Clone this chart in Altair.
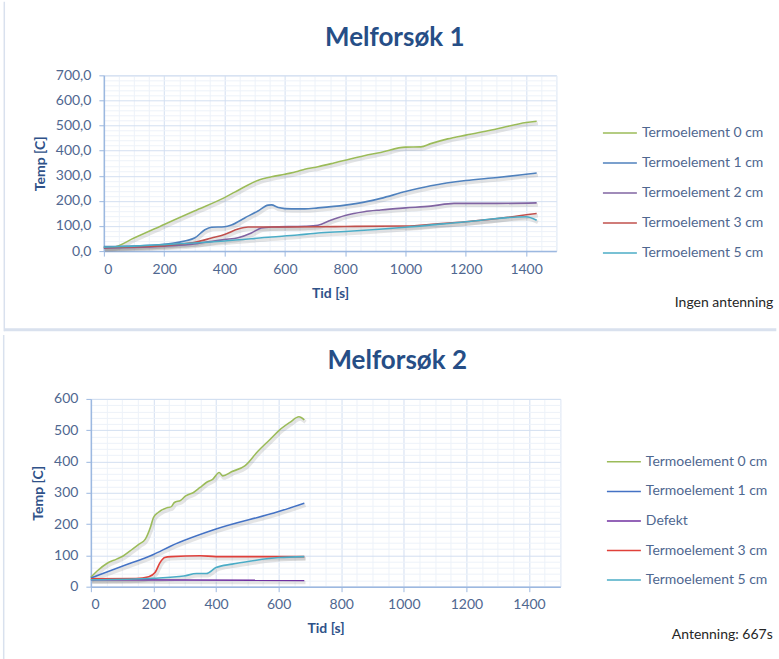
import altair as alt
import pandas as pd

FONT = "Lato"
MAJOR_GRID = "#D3DFF1"
MINOR_GRID = "#EDF2F9"
AXIS_BLUE = "#9CB8E0"
LABEL_COLOR = "#4F6790"
TITLE_COLOR = "#264E86"
AXIS_TITLE_COLOR = "#2F5289"
BORDER = "#D9E1EE"

# ---------------- Melforsøk 1 (time [s], temperature [C]) ----------------
m1_series = ["Termoelement 0 cm", "Termoelement 1 cm", "Termoelement 2 cm",
             "Termoelement 3 cm", "Termoelement 5 cm"]
m1_colors = ["#9BBB59", "#4F81BD", "#8064A2", "#C0504D", "#4BACC6"]

m1_t0_time = [0, 30, 100, 200, 300, 400, 434, 470, 512, 556, 600, 644, 666, 710, 760,
              800, 863, 918, 1000, 1051, 1084, 1140, 1200, 1305, 1400, 1435]
m1_t0_temp = [15, 16, 52, 106, 160, 213, 235, 258, 282, 296, 306, 318, 326, 336, 350,
              362, 380, 393, 414, 415, 428, 447, 462, 487, 512, 517]

m1_t1_time = [0, 100, 200, 246, 302, 335, 357, 400, 423, 467, 511, 545, 556, 578, 622,
              666, 710, 800, 863, 918, 1000, 1084, 1200, 1305, 1400, 1435]
m1_t1_temp = [18, 20, 27, 35, 53, 85, 95, 97, 104, 132, 160, 183, 184, 174, 168,
              168, 172, 183, 195, 210, 237, 260, 281, 293, 306, 311]

m1_t2_time = [0, 100, 200, 300, 335, 400, 445, 489, 522, 556, 666, 710, 752, 800, 863,
              918, 1000, 1084, 1161, 1305, 1435]
m1_t2_temp = [12, 15, 20, 28, 35, 46, 53, 72, 92, 96, 99, 103, 123, 142, 157,
              164, 172, 179, 190, 190, 192]

m1_t3_time = [0, 100, 200, 246, 302, 357, 400, 445, 478, 556, 710, 800, 1000, 1100,
              1200, 1305, 1435]
m1_t3_temp = [14, 17, 22, 27, 35, 52, 66, 88, 96, 96, 97, 98, 100, 108,
              117, 130, 150]

m1_t5_time = [0, 100, 200, 300, 400, 556, 642, 710, 800, 1000, 1200, 1400, 1435]
m1_t5_temp = [16, 20, 26, 32, 40, 56, 64, 72, 78, 95, 117, 137, 123]

# ---------------- Melforsøk 2 (time [s], temperature [C]) ----------------
m2_series = ["Termoelement 0 cm", "Termoelement 1 cm", "Defekt",
             "Termoelement 3 cm", "Termoelement 5 cm"]
m2_colors = ["#9BBB59", "#4472C4", "#7030A0", "#E0403A", "#4BACC6"]

m2_t0_time = [0, 20, 51, 82, 103, 133, 154, 174, 190, 200, 215, 246, 256, 267, 287,
              303, 328, 349, 369, 390, 410, 421, 451, 492, 533, 574, 600, 636, 665, 682]
m2_t0_temp = [30, 50, 74, 88, 98, 120, 136, 152, 189, 221, 237, 253, 255, 269, 276,
              290, 301, 317, 333, 344, 365, 354, 368, 386, 432, 472, 498, 525, 543, 533]

m2_t1_time = [0, 100, 200, 256, 400, 600, 682]
m2_t1_temp = [28, 65, 103, 130, 184, 240, 267]

m2_defekt_time = [0, 682]
m2_defekt_temp = [22, 20]

m2_t3_time = [0, 144, 185, 205, 221, 236, 256, 349, 400, 600, 682]
m2_t3_temp = [25, 26, 32, 45, 77, 93, 96, 99, 96, 96, 96]

m2_t5_time = [0, 200, 297, 338, 369, 400, 451, 513, 600, 682]
m2_t5_temp = [22, 27, 34, 42, 42, 61, 72, 82, 93, 96]


def long_table(series, times, temps):
    rows = []
    for name, ts, vs in zip(series, times, temps):
        for order, (t, v) in enumerate(zip(ts, vs)):
            rows.append({"serie": name, "tid": t, "temp": v, "order": order})
    return pd.DataFrame(rows)


m1_df = long_table(m1_series,
                   [m1_t0_time, m1_t1_time, m1_t2_time, m1_t3_time, m1_t5_time],
                   [m1_t0_temp, m1_t1_temp, m1_t2_temp, m1_t3_temp, m1_t5_temp])
m2_df = long_table(m2_series,
                   [m2_t0_time, m2_t1_time, m2_defekt_time, m2_t3_time, m2_t5_time],
                   [m2_t0_temp, m2_t1_temp, m2_defekt_temp, m2_t3_temp, m2_t5_temp])


def x_axis():
    major = "datum.value % 200 === 0"
    return alt.Axis(
        values=list(range(0, 1501, 50)),
        labelExpr=f"{major} ? format(datum.value, 'd') : ''",
        labelOverlap=False,
        gridColor={"condition": {"test": major, "value": MAJOR_GRID}, "value": MINOR_GRID},
        tickOpacity={"condition": {"test": major, "value": 1}, "value": 0},
        tickSize=5, tickColor=AXIS_BLUE, domainColor=AXIS_BLUE, domainWidth=1.5,
        labelFont=FONT, labelFontSize=14, labelColor=LABEL_COLOR, labelPadding=6,
        title="Tid [s]", titleFont=FONT, titleFontSize=14, titleFontWeight="bold",
        titleColor=AXIS_TITLE_COLOR, titlePadding=10,
    )


def y_axis(top, decimals):
    major = "datum.value % 100 === 0"
    if decimals:
        label = f"{major} ? replace(format(datum.value, '.1f'), '.', ',') : ''"
    else:
        label = f"{major} ? format(datum.value, 'd') : ''"
    return alt.Axis(
        values=list(range(0, top + 1, 20)),
        labelExpr=label,
        labelOverlap=False,
        gridColor={"condition": {"test": major, "value": MAJOR_GRID}, "value": MINOR_GRID},
        tickOpacity={"condition": {"test": major, "value": 1}, "value": 0},
        tickSize=5, tickColor=AXIS_BLUE, domainColor=AXIS_BLUE, domainWidth=1.5,
        labelFont=FONT, labelFontSize=14, labelColor=LABEL_COLOR, labelPadding=8,
        title="Temp [C]", titleFont=FONT, titleFontSize=14, titleFontWeight="bold",
        titleColor=AXIS_TITLE_COLOR, titlePadding=8,
    )


def panel(df, series, colors, title, title_xy, ytop, decimals, w, h, legend_xy,
          row_pad, note, note_xy, left_rule, sep_rule):
    x_scale = alt.Scale(domain=[0, 1500], nice=False, zero=False)
    y_scale = alt.Scale(domain=[0, ytop], nice=False)
    xa = x_axis()
    ya = y_axis(ytop, decimals)
    xu = 1500 / w
    yu = ytop / h

    base = alt.Chart(df)
    # soft drop shadow under each curve
    shadow = base.transform_calculate(
        tid=f"datum.tid + {1.2 * xu}", temp=f"datum.temp - {2.2 * yu}"
    ).mark_line(color="#7F7F7F", opacity=0.2, strokeWidth=3.5, interpolate="monotone").encode(
        x=alt.X("tid:Q", scale=x_scale, axis=xa),
        y=alt.Y("temp:Q", scale=y_scale, axis=ya),
        detail="serie:N",
        order="order:Q",
    )
    lines = base.mark_line(strokeWidth=1.6, interpolate="monotone").encode(
        x=alt.X("tid:Q", scale=x_scale, axis=xa),
        y=alt.Y("temp:Q", scale=y_scale, axis=ya),
        color=alt.Color(
            "serie:N",
            scale=alt.Scale(domain=series, range=colors),
            legend=alt.Legend(
                orient="none", legendX=legend_xy[0], legendY=legend_xy[1], title=None,
                symbolType="stroke", symbolSize=1156, symbolStrokeWidth=1.5,
                clipHeight=16, rowPadding=row_pad, labelOffset=4, labelLimit=250,
                labelFont=FONT, labelFontSize=14, labelColor=LABEL_COLOR,
            ),
        ),
        order="order:Q",
    )
    one = alt.Chart(pd.DataFrame({"title": [title], "note": [note]}))
    title_mark = one.mark_text(align="center", baseline="middle", font=FONT, fontSize=26,
                               fontWeight="bold", color=TITLE_COLOR).encode(
        x=alt.value(title_xy[0]), y=alt.value(title_xy[1]), text="title:N")
    note_mark = one.mark_text(align="right", baseline="middle", font=FONT, fontSize=14,
                              color="#262626").encode(
        x=alt.value(note_xy[0]), y=alt.value(note_xy[1]), text="note:N")
    layers = [shadow, lines, title_mark, note_mark]
    # chart-area border: left edge and (top panel only) the divider underneath
    layers.append(one.mark_rule(color=BORDER, strokeWidth=1.5).encode(
        x=alt.value(left_rule[0]), x2=alt.value(left_rule[0]),
        y=alt.value(left_rule[1]), y2=alt.value(left_rule[2])))
    if sep_rule is not None:
        layers.append(one.mark_rule(color=BORDER, strokeWidth=3).encode(
            x=alt.value(sep_rule[0]), x2=alt.value(sep_rule[1]),
            y=alt.value(sep_rule[2])))
    return alt.layer(*layers).properties(
        width=w, height=h, view=alt.ViewBackground(stroke=MAJOR_GRID, strokeWidth=1))


def gutter():
    # thin empty column so each panel keeps its own left offset
    return alt.Chart(pd.DataFrame({"g": [0]})).mark_point(opacity=0, size=0, strokeWidth=0).encode(
        x=alt.value(0), y=alt.value(0)
    ).properties(width=1.2, height=1, view=alt.ViewBackground(strokeOpacity=0))


top = panel(m1_df, m1_series, m1_colors, "Melforsøk 1", (291.3, -37.2), 700, True, 453, 176,
            (602.7, 49.8), 14, "Ingen antenning", (670.3, 228.3),
            (-99.7, -73.7, 256.3), (-99.7, 673.3, 254.8))
bottom = panel(m2_df, m2_series, m2_colors, "Melforsøk 2", (306.7, -38), 600, False, 470, 188,
               (606.7, 55), 13.6, "Antenning: 667s", (682.7, 236),
               (-87.3, -64, 266), None)

chart = alt.vconcat(
    alt.hconcat(gutter(), top, spacing=0),
    alt.hconcat(gutter(), bottom, spacing=0),
    spacing=0,
).resolve_scale(
    color="independent"
).properties(
    padding=0, background="white"
)

chart.save("out.html", embed_options={"renderer": "svg", "actions": False})
